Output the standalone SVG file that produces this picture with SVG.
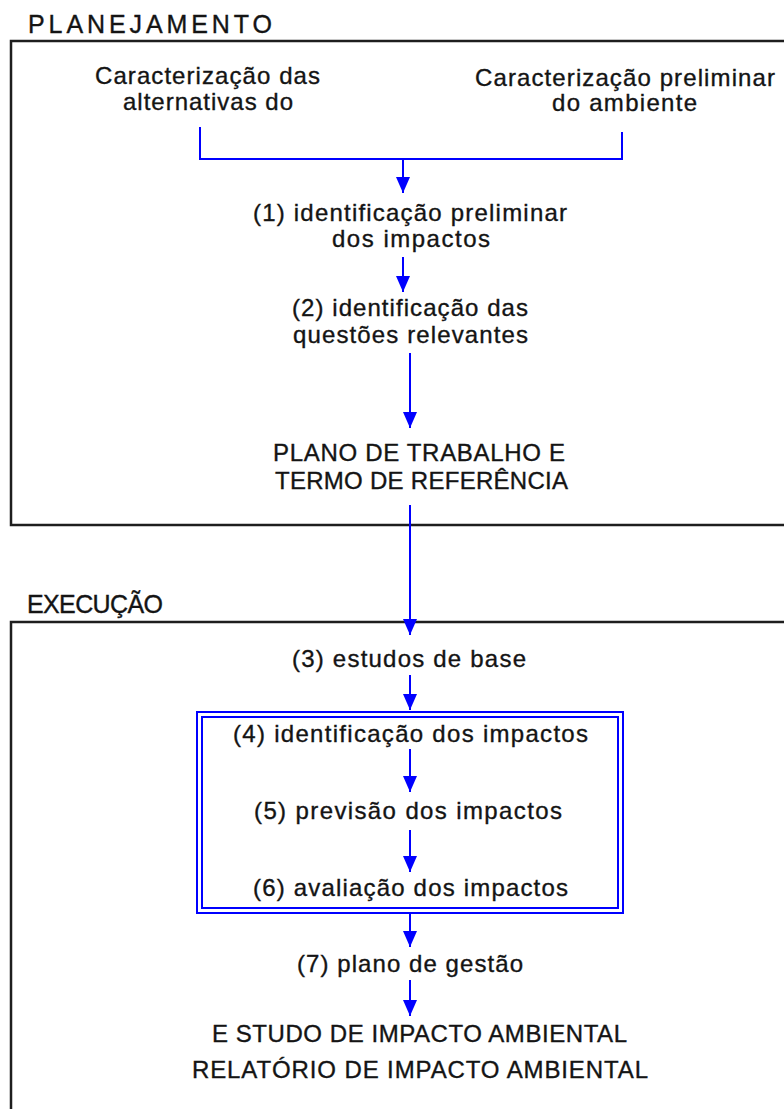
<svg xmlns="http://www.w3.org/2000/svg" width="784" height="1109" viewBox="0 0 784 1109">
<style>
text{font-family:"Liberation Sans",Arial,sans-serif;font-size:24px;fill:#141414;stroke:#141414;stroke-width:0.35;text-anchor:middle}
.hdr{text-anchor:start;font-size:25px}
.frame{fill:none;stroke:#1e1e1e;stroke-width:2.5}
.blue{fill:none;stroke:#0000ff;stroke-width:2}
.arr{fill:none;stroke:#0000ff;stroke-width:2;marker-end:url(#ah)}
</style>
<defs>
<marker id="ah" markerUnits="userSpaceOnUse" markerWidth="16" markerHeight="14" refX="16" refY="7" orient="auto">
<path d="M0,0 L16,7 L0,14 z" fill="#0000ff"/>
</marker>
</defs>
<rect width="784" height="1109" fill="#fff"/>

<g id="planejamento">
<text class="hdr" x="28" y="33" textLength="244">PLANEJAMENTO</text>
<rect class="frame" x="11" y="41" width="800" height="484"/>
</g>

<g id="execucao">
<text class="hdr" x="27" y="613" textLength="136">EXECUÇÃO</text>
<rect class="frame" x="11" y="622" width="800" height="600"/>
</g>

<g id="alternativas">
<text x="207.5" y="84" textLength="225">Caracterização das</text>
<text x="208" y="110" textLength="170">alternativas do</text>
</g>

<g id="ambiente">
<text x="625" y="86" textLength="300">Caracterização preliminar</text>
<text x="624.5" y="111" textLength="145">do ambiente</text>
</g>

<g id="n1">
<text x="410" y="221" textLength="314">(1) identificação preliminar</text>
<text x="411" y="247" textLength="158">dos impactos</text>
</g>

<g id="n2">
<text x="410" y="316" textLength="236">(2) identificação das</text>
<text x="410.5" y="343" textLength="235">questões relevantes</text>
</g>

<g id="plano">
<text x="419" y="461" textLength="292">PLANO DE TRABALHO E</text>
<text x="421.5" y="489" textLength="293">TERMO DE REFERÊNCIA</text>
</g>

<g id="n3">
<text x="409" y="667" textLength="234">(3) estudos de base</text>
</g>

<g id="bloco-impactos">
<rect class="blue" x="197" y="712" width="426" height="201"/>
<rect class="blue" x="202" y="717" width="416" height="191"/>
</g>

<g id="n4">
<text x="410.5" y="742" textLength="355">(4) identificação dos impactos</text>
</g>

<g id="n5">
<text x="408" y="819" textLength="308">(5) previsão dos impactos</text>
</g>

<g id="n6">
<text x="410.5" y="896" textLength="315">(6) avaliação dos impactos</text>
</g>

<g id="n7">
<text x="410" y="972" textLength="226">(7) plano de gestão</text>
</g>

<g id="eia-rima">
<text x="419.5" y="1042" textLength="415">E STUDO DE IMPACTO AMBIENTAL</text>
<text x="420" y="1078" textLength="456">RELATÓRIO DE IMPACTO AMBIENTAL</text>
</g>

<g id="connectors">
<path class="blue" d="M200,127 V159 H622 V132"/>
<path class="arr" d="M403,159 V193"/>
<path class="arr" d="M403,257 V292"/>
<path class="arr" d="M410,353 V428"/>
<path class="arr" d="M410,505 V635"/>
<path class="arr" d="M410,675 V710"/>
<path class="arr" d="M410,749 V792"/>
<path class="arr" d="M410,830 V872"/>
<path class="arr" d="M410,913 V947"/>
<path class="arr" d="M410,980 V1016"/>
</g>
</svg>
